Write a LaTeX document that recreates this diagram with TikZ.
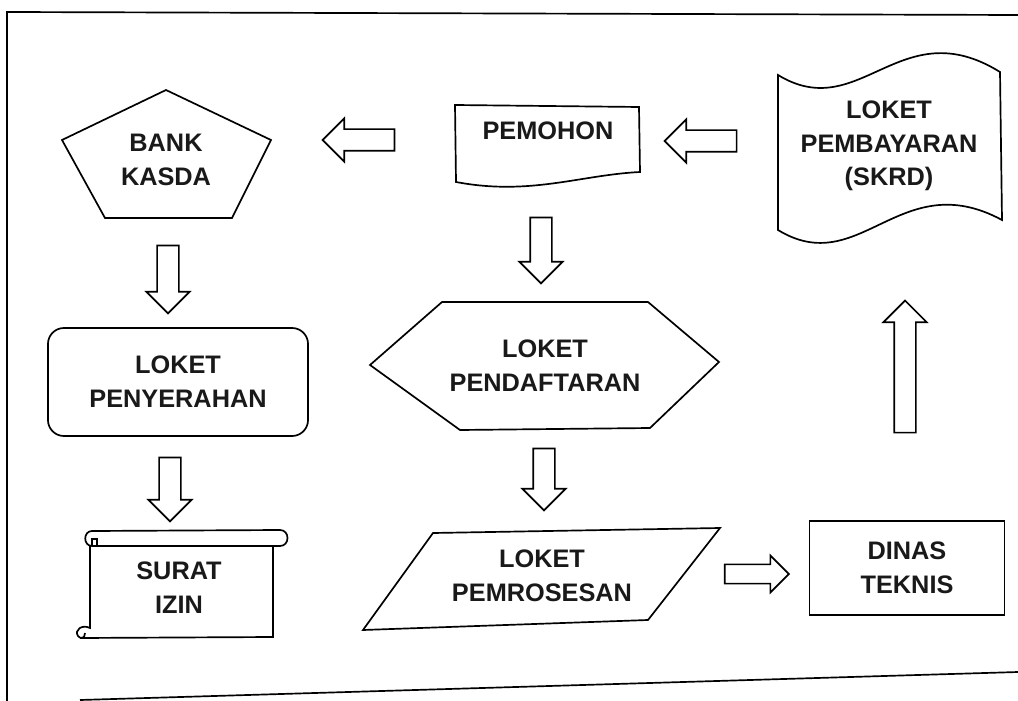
\documentclass[tikz,border=0pt]{standalone}
\usepackage{fontspec}
\setmainfont{Liberation Sans}
\usetikzlibrary{shapes.arrows}

\begin{document}
\begin{tikzpicture}[x=0.025cm, y=-0.025cm, line width=1.2pt,
  lbl/.style={font=\bfseries\fontsize{18}{24}\selectfont, align=center, text=black!90},
  blockarrow/.style={single arrow, draw, line width=1.2pt, inner sep=0.25cm,
    single arrow head extend=0.27cm, minimum height=1.8cm}]
\useasboundingbox (0,0) rectangle (1018,701);

% frame of the scan
\draw (1018,15) -- (7,12) -- (7,701);
\draw (80,700) -- (1018,672);

% bank kasda (pentagon)
\draw (166,90) -- (271,140) -- (232,218) -- (105,218) -- (62,140) -- cycle;
\node [lbl] (bank) at (166,160) {BANK\\KASDA};

% pemohon (document)
\draw (455,105) -- (639,107) -- (640,172) .. controls (580,175) and (530,196) .. (456,182) -- cycle;
\node [lbl] (pemohon) at (548,131) {PEMOHON};

% loket pembayaran (flag)
\draw (778,75) .. controls (860,125) and (900,10) .. (1000,72) -- (1002,220)
  .. controls (900,165) and (860,280) .. (778,230) -- cycle;
\node [lbl] (bayar) at (889,146) {LOKET\\PEMBAYARAN\\(SKRD)};

% loket penyerahan
\node [lbl, draw, line width=1.2pt, rounded corners=0.4cm, minimum width=6.5cm, minimum height=2.7cm] (serah) at (178,382) {LOKET\\PENYERAHAN};

% loket pendaftaran (hexagon)
\draw (370,365) -- (442,302) -- (648,302) -- (719,362) -- (650,428) -- (460,430) -- cycle;
\node [lbl] (daftar) at (545,366) {LOKET\\PENDAFTARAN};

% surat izin (scroll)
\draw (92,531) -- (280,530) .. controls (290,530) and (290,546) .. (280,546) -- (92,546);
\draw (92,531) .. controls (83,531) and (83,546) .. (92,546);
\draw (90,546) -- (90,628) .. controls (82,624) and (74,630) .. (78,636) .. controls (80,639) and (85,639) .. (85,633);
\draw (80,638) -- (273,637) -- (273,546);
\draw (92,546) -- (92,539) -- (97,539) -- (97,546);
\node [lbl] (surat) at (179,588) {SURAT\\IZIN};

% loket pemrosesan (parallelogram)
\draw (433,533) -- (720,528) -- (648,620) -- (363,630) -- cycle;
\node [lbl] (proses) at (542,576) {LOKET\\PEMROSESAN};

% dinas teknis
\node [lbl, draw, line width=1.2pt, minimum width=4.88cm, minimum height=2.35cm] (dinas) at (907,568) {DINAS\\TEKNIS};

% block arrows
\node [blockarrow, shape border rotate=180] (a1) at (364,140) {};
\node [blockarrow, shape border rotate=180] (a2) at (706,141) {};
\node [blockarrow, shape border rotate=270, minimum height=1.7cm] (a3) at (168,274) {};
\node [blockarrow, shape border rotate=270, minimum height=1.65cm] (a4) at (541,245) {};
\node [blockarrow, shape border rotate=270, minimum height=1.6cm] (a5) at (170,484) {};
\node [blockarrow, shape border rotate=270, minimum height=1.55cm] (a6) at (544,474) {};
\node [blockarrow, inner sep=0.22cm, single arrow head extend=0.22cm, minimum height=1.6cm] (a7) at (752,574) {};
\node [blockarrow, shape border rotate=90, minimum height=3.3cm] (a8) at (905,372) {};
\end{tikzpicture}
\end{document}
